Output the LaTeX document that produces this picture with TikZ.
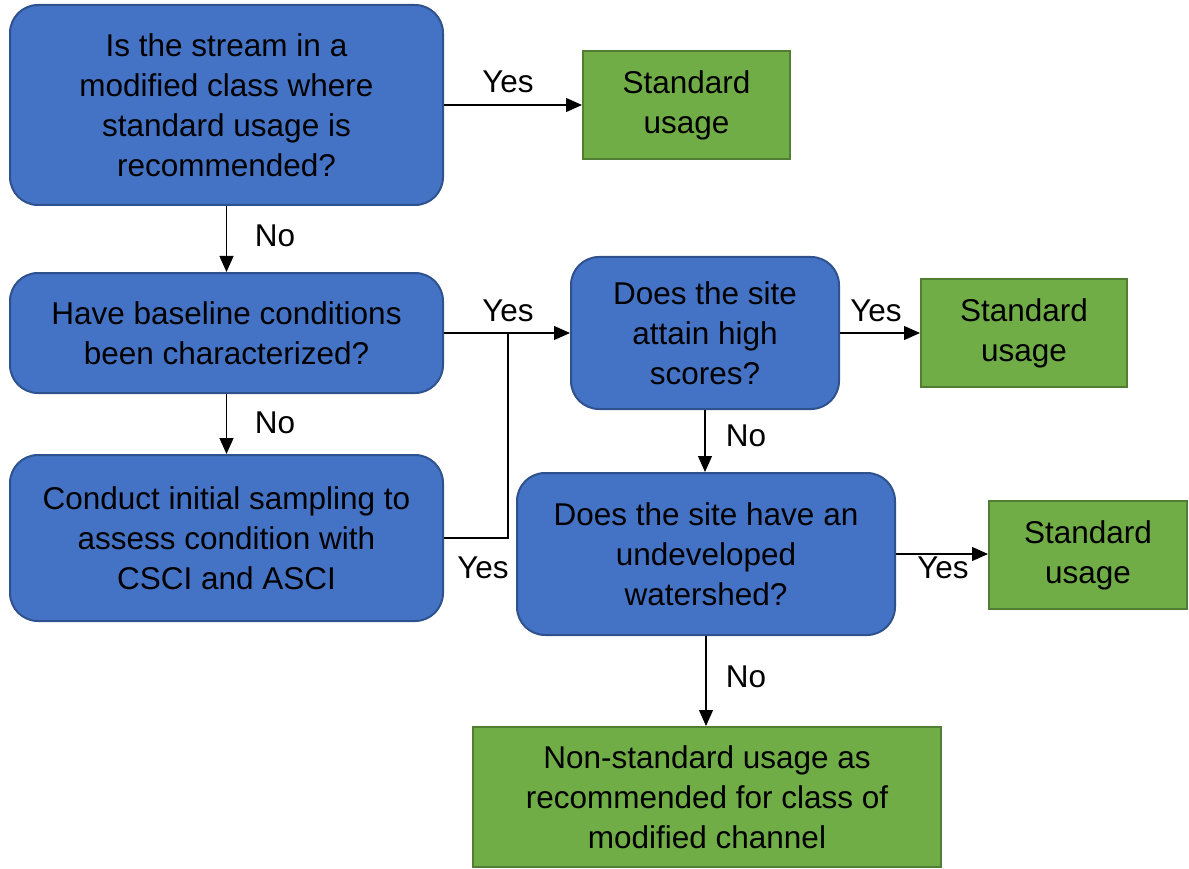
\documentclass[tikz,border=0pt]{standalone}
\usepackage{fontspec}
\setmainfont{Liberation Sans}
\usepackage{tikz}
\usetikzlibrary{arrows.meta,positioning,calc}
\definecolor{qblue}{HTML}{4472C4}
\definecolor{qblueline}{HTML}{2F528F}
\definecolor{okgreen}{HTML}{70AD47}
\definecolor{okgreenline}{HTML}{507E32}

\tikzset{
  question/.style={fill=qblue,draw=qblueline,line width=2pt,rounded corners=28pt,
                   align=center,inner sep=0pt},
  outcome/.style={fill=okgreen,draw=okgreenline,line width=2pt,align=center,inner sep=0pt},
  link/.style={-{Triangle[length=16pt,width=14pt]},line width=1.2pt},
  answer/.style={inner sep=0pt}
}

\begin{document}
\begin{tikzpicture}[x=1pt,y=-1pt,font=\fontsize{31.5}{40}\selectfont]
\useasboundingbox (0,0) rectangle (1189,869);

% decision boxes
\node[question,minimum width=433pt,minimum height=200pt] (q1) at (226.5,105)
  {Is the stream in a\\modified class where\\standard usage is\\recommended?};
\node[question,minimum width=433pt,minimum height=120pt] (q2) at (226.5,333)
  {Have baseline conditions\\been characterized?};
\node[question,minimum width=433pt,minimum height=166pt] (samp) at (226.5,538)
  {Conduct initial sampling to\\assess condition with\\CSCI and ASCI};
\node[question,minimum width=268pt,minimum height=152pt] (q3) at (705,333)
  {Does the site\\attain high\\scores?};
\node[question,minimum width=378pt,minimum height=162pt] (q4) at (706,554)
  {Does the site have an\\undeveloped\\watershed?};

% outcomes
\node[outcome,minimum width=207pt,minimum height=108pt] (std1) at (686.5,105) {Standard\\usage};
\node[outcome,minimum width=206pt,minimum height=108pt] (std2) at (1024,333) {Standard\\usage};
\node[outcome,minimum width=198pt,minimum height=108pt] (std3) at (1088,555) {Standard\\usage};
\node[outcome,minimum width=468pt,minimum height=140pt] (nonstd) at (707,797)
  {Non-standard usage as\\recommended for class of\\modified channel};

% connectors
\coordinate (jn) at (508,333);
\draw[link] (q1.east) -- (std1.west);
\draw[link] (q1.south) -- (q2.north);
\draw[link] (q2.east) -- (q3.west);
\draw[link] (q2.south) -- (samp.north);
\draw[line width=1.2pt] (samp.east) -| (jn);
\draw[link] (q3.east) -- (std2.west);
\draw[link] (q3.south) -- (q3.south |- q4.north);
\draw[link] (q4.east) -- (q4.east -| std3.west);
\draw[link] (q4.south) -- (q4.south |- nonstd.north);

% answers
\node[answer] (a1) at (508,82) {Yes};
\node[answer] (a2) at (275,236) {No};
\node[answer] (a3) at (508,311) {Yes};
\node[answer] (a4) at (275,423) {No};
\node[answer] (a5) at (483,568) {Yes};
\node[answer] (a6) at (876,311) {Yes};
\node[answer] (a7) at (746,436) {No};
\node[answer] (a8) at (943,568) {Yes};
\node[answer] (a9) at (746,677) {No};
\end{tikzpicture}
\end{document}
